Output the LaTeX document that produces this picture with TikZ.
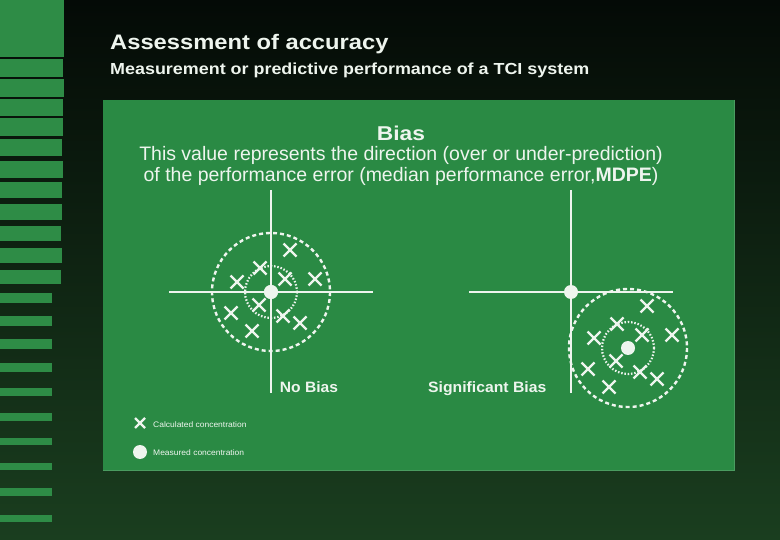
\documentclass[tikz,border=0pt]{standalone}
\usepackage{fontspec}
\setmainfont{Liberation Sans}
\definecolor{slidegreen}{RGB}{42,138,68}
\definecolor{stripegreen}{RGB}{46,140,70}
\definecolor{bgtop}{RGB}{4,10,6}
\definecolor{bgbottom}{RGB}{26,62,31}
\definecolor{chalk}{RGB}{238,245,238}
\tikzset{
  axisline/.style={chalk, line width=2.4pt},
  spread/.style={chalk, line width=2.4pt, dash pattern=on 4pt off 3pt},
  core/.style={chalk, line width=2.2pt, dash pattern=on 1.5pt off 1.8pt},
  meas/.style={circle, fill=chalk, inner sep=0pt, minimum size=14pt},
  lbl/.style={chalk, inner sep=0pt},
  pics/calc/.style={code={\draw[chalk, line width=2.4pt] (-#1,-#1) -- (#1,#1) (-#1,#1) -- (#1,-#1);}},
  pics/calc/.default=6.5,
}
\begin{document}
\begin{tikzpicture}[x=1pt, y=-1pt]
\useasboundingbox (0,0) rectangle (780,540);
% background
\shade[top color=bgtop, bottom color=bgbottom] (0,0) rectangle (780,540);
% stripes on the left
\fill[stripegreen] (0,0) rectangle (64,57);
\foreach \ya/\yb/\w in {59/77/63, 79/97/64, 99/116/63, 118/136/63, 139/156/62, 161/178/63,
  182/198/62, 204/220/62, 226/241/61, 248/263/62, 270/284/61,
  293/303/52, 316/326/52, 339/349/52, 363/372/52, 388/396/52, 413/421/52,
  438/445/52, 463/470/52, 488/496/52, 515/522/52}
  \fill[stripegreen] (0,\ya) rectangle (\w,\yb);
% headings
\node[lbl, anchor=base west, xscale=1.13, font=\bfseries\fontsize{21}{25}\selectfont] (title) at (110,50) {Assessment of accuracy};
\node[lbl, anchor=base west, xscale=1.12, font=\bfseries\fontsize{16}{20}\selectfont] (subtitle) at (110,75) {Measurement or predictive performance of a TCI system};
% panel
\fill[slidegreen] (103,100) rectangle (734,470);
\draw[slidegreen!85!white, line width=1pt] (734,100) -- (734,470) -- (103,470);
\node[lbl, anchor=base, xscale=1.14, font=\bfseries\fontsize{20}{24}\selectfont] (biashead) at (401,141) {Bias};
\node[lbl, anchor=base, font=\fontsize{19.5}{21}\selectfont, align=center] (biastext) at (401,182)
  {This value represents the direction (over or under-prediction)\\of the performance error (median performance error,\textbf{MDPE})};
% two targets: axis centre / shift of the cluster
\foreach \cx/\dx/\dy [count=\i] in {271/0/0, 571/57/56} {
  \begin{scope}[shift={(\cx,292)}]
    \draw[spread] (\dx,\dy) circle (59);
    \draw[core] (\dx,\dy) circle (26);
    \draw[axisline] (-102,0) -- (102,0);
    \draw[axisline] (0,-102) -- (0,101);
    \foreach \px/\py in {19/-42, -11/-24, -34/-10, 14/-13, 44/-13,
      -12/13, -40/21, 12/24, 29/31, -19/39}
      \pic at (\dx+\px,\dy+\py) {calc};
    \node[meas] (meas\i) at (0,0) {};
    \node[meas] (centre\i) at (\dx,\dy) {};
  \end{scope}
}
\node[lbl, anchor=base, xscale=1.04, font=\bfseries\fontsize{15}{18}\selectfont] (nobias) at (309,392) {No Bias};
\node[lbl, anchor=base west, xscale=1.05, font=\bfseries\fontsize{15}{18}\selectfont] (sigbias) at (428,392) {Significant Bias};
% legend
\pic at (140,423) {calc=5};
\node[lbl, anchor=base west, xscale=1.06, font=\fontsize{8}{9}\selectfont] (legcalc) at (153,428) {Calculated concentration};
\node[meas] (legdot) at (140,452) {};
\node[lbl, anchor=base west, xscale=1.06, font=\fontsize{8}{9}\selectfont] (legmeas) at (153,455) {Measured concentration};
\end{tikzpicture}
\end{document}
